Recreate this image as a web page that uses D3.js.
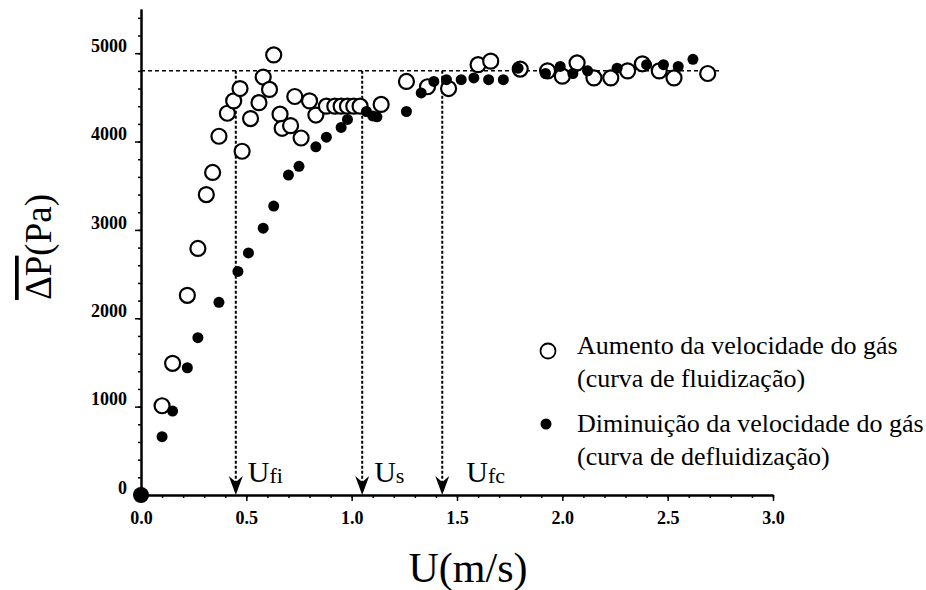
<!DOCTYPE html>
<html>
<head>
<meta charset="utf-8">
<script src="https://cdn.jsdelivr.net/npm/d3@7"></script>
<style>
  html, body { margin: 0; padding: 0; background: #fff; }
  svg { display: block; }
  svg text { font-family: "Liberation Serif", "DejaVu Serif", serif !important; fill: #000; }
</style>
</head>
<body>
<svg id="chart" width="926" height="590"></svg>
<script>
// Fluidization curve (increasing gas velocity): U (m/s) and mean pressure drop (Pa)
const fluidU = [0.10, 0.15, 0.22, 0.27, 0.31, 0.34, 0.37, 0.41, 0.44, 0.47, 0.48, 0.52,
  0.56, 0.58, 0.61, 0.63, 0.66, 0.67, 0.71, 0.73, 0.76, 0.80, 0.83, 0.88, 0.92, 0.95,
  0.98, 1.01, 1.04, 1.14, 1.26, 1.36, 1.46, 1.60, 1.66, 1.80, 1.93, 2.00, 2.07, 2.15,
  2.23, 2.31, 2.38, 2.46, 2.53, 2.69];
const fluidP = [1010, 1490, 2260, 2790, 3400, 3650, 4060, 4320, 4460, 4600, 3890, 4260,
  4440, 4730, 4590, 4980, 4310, 4150, 4180, 4510, 4040, 4460, 4300, 4400, 4400, 4400,
  4400, 4400, 4400, 4420, 4680, 4620, 4600, 4870, 4910, 4820, 4800, 4740, 4890, 4720,
  4720, 4800, 4880, 4800, 4720, 4770];

// Defluidization curve (decreasing gas velocity)
const defluidU = [0.00, 0.10, 0.15, 0.22, 0.27, 0.37, 0.46, 0.51, 0.58, 0.63, 0.70, 0.75,
  0.83, 0.88, 0.95, 0.98, 1.07, 1.10, 1.12, 1.26, 1.33, 1.39, 1.45, 1.52, 1.58, 1.65,
  1.72, 1.79, 1.92, 1.99, 2.05, 2.12, 2.26, 2.40, 2.48, 2.55, 2.62];
const defluidP = [0, 660, 950, 1440, 1780, 2180, 2530, 2740, 3020, 3270, 3620, 3720,
  3940, 4050, 4160, 4250, 4340, 4290, 4280, 4340, 4550, 4680, 4700, 4700, 4720, 4700,
  4700, 4830, 4770, 4850, 4770, 4800, 4830, 4870, 4870, 4850, 4930];

// Characteristic velocities and the plateau pressure drop
const markerNames = ["fi", "s", "fc"];
const markerU = [0.45, 1.05, 1.43];
const plateauP = 4800;
const plateauEndU = 2.75;

// Axis ticks
const xMajor = [0, 0.5, 1.0, 1.5, 2.0, 2.5, 3.0];
const yMajor = [0, 1000, 2000, 3000, 4000, 5000];

const legendLines = [
  ["Aumento da velocidade do gás", "(curva de fluidização)"],
  ["Diminuição da velocidade do gás", "(curva de defluidização)"]
];

const SERIF = "'Liberation Serif', 'DejaVu Serif', serif";
const svg = d3.select("#chart");

const x = d3.scaleLinear().domain([0, 3]).range([141, 773]);
const y = d3.scaleLinear().domain([0, 5500]).range([495, 9]);
const x0 = x(0), y0 = y(0);

// Axes
const xMinor = d3.range(0, 30.5, 1).map(d => d / 10);
const yMinor = d3.range(0, 5500, 200);

const gx = svg.append("g").attr("transform", `translate(0,${y0})`);
gx.call(d3.axisBottom(x).tickValues(xMinor).tickSize(3).tickSizeOuter(0).tickFormat(""));
gx.call(g => g.append("g").call(d3.axisBottom(x).tickValues(xMajor).tickSize(6)
  .tickSizeOuter(0).tickFormat(d3.format(".1f"))));
gx.selectAll("g").attr("font-family", SERIF);
gx.selectAll("path.domain").attr("stroke-width", 2).attr("stroke", "#000");
gx.selectAll(".tick line").attr("stroke", "#000").attr("stroke-width", 1.5);
gx.selectAll(".tick text")
  .attr("font-size", 18).attr("font-weight", "bold")
  .attr("y", 16).attr("dy", "0.71em").attr("fill", "#000");

const gy = svg.append("g").attr("transform", `translate(${x0},0)`);
gy.call(d3.axisLeft(y).tickValues(yMinor).tickSize(3).tickSizeOuter(0).tickFormat(""));
gy.call(g => g.append("g").call(d3.axisLeft(y).tickValues(yMajor).tickSize(6)
  .tickSizeOuter(0).tickFormat(d3.format("d"))));
gy.selectAll("g").attr("font-family", SERIF);
gy.selectAll("path.domain").attr("stroke-width", 2).attr("stroke", "#000");
gy.selectAll(".tick line").attr("stroke", "#000").attr("stroke-width", 1.5);
gy.selectAll(".tick text")
  .attr("font-size", 18).attr("font-weight", "bold")
  .attr("x", -14).attr("dy", "-0.1em").attr("fill", "#000");

// Plateau line and characteristic-velocity markers
svg.append("line")
  .attr("x1", x0).attr("x2", x(plateauEndU))
  .attr("y1", y(plateauP)).attr("y2", y(plateauP))
  .attr("stroke", "#000").attr("stroke-width", 1.5)
  .attr("stroke-dasharray", "4,3");

const markers = svg.append("g").attr("font-family", SERIF);
markerU.forEach((u, i) => {
  const xp = x(u);
  markers.append("line")
    .attr("x1", xp).attr("x2", xp)
    .attr("y1", y(plateauP)).attr("y2", y0 - 12)
    .attr("stroke", "#000").attr("stroke-width", 2)
    .attr("stroke-dasharray", "3,2");
  markers.append("path")
    .attr("d", `M${xp},${y0} L${xp - 7},${y0 - 19} L${xp},${y0 - 13} L${xp + 7},${y0 - 19} Z`)
    .attr("fill", "#000");
  const lx = xp + (i === 2 ? 24 : 12);
  const t = markers.append("text").attr("x", lx).attr("y", y0 - 13).attr("font-size", 30);
  t.append("tspan").text("U");
  t.append("tspan").attr("font-size", 22).attr("dy", 1).text(markerNames[i]);
});

// Data markers
svg.append("g").selectAll("circle")
  .data(d3.range(fluidU.length))
  .join("circle")
  .attr("cx", i => x(fluidU[i]))
  .attr("cy", i => y(fluidP[i]))
  .attr("r", 7.5)
  .attr("fill", "#fff")
  .attr("stroke", "#000")
  .attr("stroke-width", 2.2);

svg.append("g").selectAll("circle")
  .data(d3.range(defluidU.length))
  .join("circle")
  .attr("cx", i => x(defluidU[i]))
  .attr("cy", i => y(defluidP[i]))
  .attr("r", i => defluidU[i] === 0 ? 8 : 5.5)
  .attr("fill", "#000");

// Axis titles
svg.append("text")
  .attr("x", 468).attr("y", 582)
  .attr("text-anchor", "middle")
  .attr("font-family", SERIF)
  .attr("font-size", 42)
  .text("U(m/s)");

const yt = svg.append("text")
  .attr("transform", "translate(51,247) rotate(-90)")
  .attr("text-anchor", "middle")
  .attr("font-family", SERIF)
  .attr("font-size", 37);
yt.append("tspan").style("text-decoration", "overline").text("ΔP");
yt.append("tspan").text("(Pa)");

// Legend
const legend = svg.append("g").attr("transform", "translate(577,354)").attr("font-family", SERIF);
legend.append("circle").attr("cx", -29).attr("cy", -3).attr("r", 7.5)
  .attr("fill", "#fff").attr("stroke", "#000").attr("stroke-width", 1.8);
legend.append("circle").attr("cx", -31).attr("cy", 70).attr("r", 5.5).attr("fill", "#000");
legendLines.forEach((lines, i) => {
  lines.forEach((s, j) => {
    legend.append("text")
      .attr("x", 0).attr("y", i * 78 + j * 33)
      .attr("font-size", 26)
      .text(s);
  });
});
</script>
</body>
</html>
